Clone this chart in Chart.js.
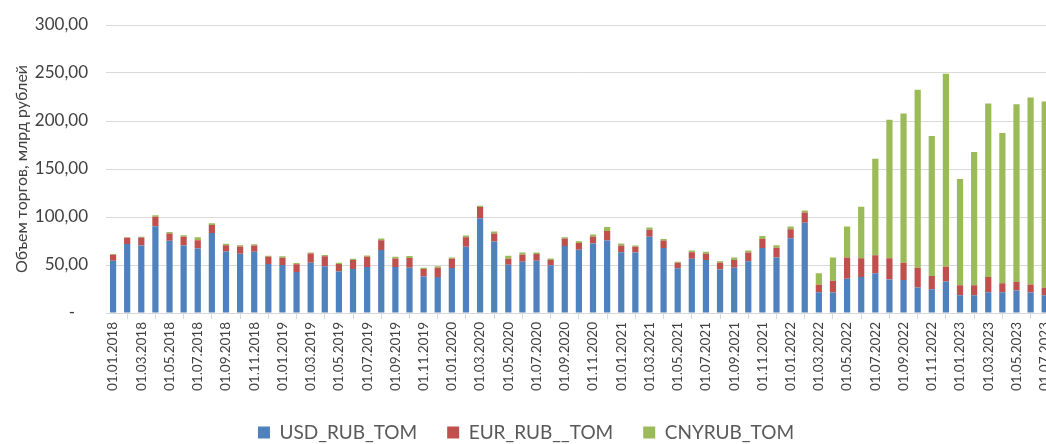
<!DOCTYPE html>
<html>
<head>
<meta charset="utf-8">
<script src="https://cdn.jsdelivr.net/npm/chart.js@4.4.0/dist/chart.umd.min.js"></script>
<style>
  html, body { margin: 0; padding: 0; background: #fff; overflow: hidden; }
  #wrap { width: 1064px; height: 452px; }
</style>
</head>
<body>
<div id="wrap"><canvas id="volume-chart"></canvas></div>
<script>
'use strict';

// monthly periods 01.01.2018 .. 01.07.2023
const months = [];
for (let y = 2018; y <= 2023; y++) {
    for (let m = 1; m <= 12; m++) {
        if (y === 2023 && m > 7) break;
        months.push('01.' + String(m).padStart(2, '0') + '.' + y);
    }
}

// trade volume, bln RUB
const usdRub = [
    54.5, 72.0, 70.3, 90.3, 75.2, 70.3, 67.2, 83.4, 64.1, 61.7, 63.8, 51.0,
    50.0, 42.8, 52.4, 48.6, 43.1, 45.9, 47.9, 65.5, 47.9, 47.2, 37.9, 37.6,
    46.9, 69.0, 98.6, 74.5, 50.3, 53.4, 54.5, 49.7, 69.7, 65.9, 72.4, 75.5,
    63.4, 63.1, 79.3, 67.6, 46.6, 56.6, 55.2, 45.2, 47.2, 53.8, 67.6, 57.9,
    77.9, 94.1, 21.5, 21.3, 35.7, 37.4, 41.3, 35.0, 34.3, 26.6, 24.8, 32.9,
    18.5, 18.5, 21.7, 21.7, 23.4, 21.3, 18.5
];
const eurRub = [
    6.2, 6.3, 8.3, 10.0, 7.6, 9.0, 8.7, 8.3, 6.6, 7.6, 6.5, 7.6,
    7.6, 7.9, 9.7, 10.4, 7.9, 9.3, 10.7, 10.4, 9.0, 10.0, 8.0, 9.6,
    9.7, 10.0, 11.7, 8.3, 6.3, 7.3, 6.9, 5.5, 7.9, 6.9, 7.3, 10.0,
    6.9, 5.9, 7.3, 7.9, 5.8, 6.8, 6.5, 7.2, 8.0, 9.3, 9.6, 10.0,
    9.3, 10.7, 8.0, 12.3, 22.0, 19.6, 18.8, 22.0, 18.1, 20.6, 13.7, 15.4,
    10.5, 10.5, 15.7, 9.4, 8.8, 8.4, 7.7
];
const cnyRub = [
    0.7, 0.7, 0.7, 1.4, 1.7, 1.7, 3.1, 1.7, 1.4, 1.4, 1.4, 1.1,
    1.4, 1.4, 1.0, 1.3, 1.4, 1.4, 1.4, 1.7, 1.7, 2.1, 1.3, 1.4,
    1.3, 1.7, 1.4, 2.0, 3.1, 2.4, 1.7, 1.7, 1.4, 2.0, 2.0, 4.2,
    2.1, 1.3, 2.4, 1.7, 1.0, 1.8, 2.1, 1.4, 2.7, 2.1, 3.1, 2.8,
    2.8, 2.1, 11.8, 24.1, 32.5, 53.8, 100.7, 144.4, 155.3, 185.3, 145.8, 201.0,
    110.5, 138.8, 180.8, 156.3, 185.3, 194.8, 194.1
];

const seriesNames = ['USD_RUB_TOM', 'EUR_RUB__TOM', 'CNYRUB_TOM'];
const seriesColors = ['#4f81bd', '#c0504d', '#9bbb59'];

const FONT = 'Lato, "Liberation Sans", sans-serif';
const GRID = '#d9d9d9';
const TEXT = '#404040';

function fmtTick(v) {
    if (v === 0) return '-   ';
    return v.toFixed(2).replace('.', ',');
}

const ctx = document.getElementById('volume-chart').getContext('2d');
new Chart(ctx, {
    type: 'bar',
    data: {
        labels: months,
        datasets: [usdRub, eurRub, cnyRub].map((values, i) => ({
            label: seriesNames[i],
            data: values,
            backgroundColor: seriesColors[i],
            borderWidth: 0,
            barPercentage: 0.44,
            categoryPercentage: 1.0
        }))
    },
    options: {
        responsive: true,
        maintainAspectRatio: false,
        animation: false,
        layout: { padding: { top: 25, right: 12, left: 0, bottom: 0 } },
        plugins: {
            tooltip: { enabled: false },
            legend: {
                position: 'bottom',
                labels: {
                    boxWidth: 12,
                    boxHeight: 12,
                    padding: 30,
                    color: '#595959',
                    font: { family: FONT, size: 19 }
                }
            }
        },
        scales: {
            x: {
                stacked: true,
                offset: true,
                afterFit: (scale) => { scale.height = 80; },
                grid: {
                    offset: true,
                    drawOnChartArea: false,
                    drawTicks: true,
                    tickLength: 6,
                    color: GRID
                },
                border: { display: true, color: GRID },
                ticks: {
                    autoSkip: false,
                    minRotation: 90,
                    maxRotation: 90,
                    padding: 3,
                    color: TEXT,
                    font: { family: FONT, size: 13.5 },
                    callback: function (val, idx) {
                        return idx % 2 === 0 ? this.getLabelForValue(val) : null;
                    }
                }
            },
            y: {
                stacked: true,
                min: 0,
                max: 300,
                afterFit: (scale) => {
                    scale.width = 106;
                    scale.paddingTop = 0;
                    scale.paddingBottom = 0;
                },
                grid: { color: GRID, drawTicks: false },
                border: { display: false },
                ticks: {
                    stepSize: 50,
                    padding: 18,
                    color: TEXT,
                    font: { family: FONT, size: 17 },
                    callback: fmtTick
                },
                title: {
                    display: true,
                    text: 'Объем торгов, млрд рублей',
                    color: TEXT,
                    padding: { top: 12, bottom: 0 },
                    font: { family: FONT, size: 16 }
                }
            }
        }
    }
});
</script>
</body>
</html>
